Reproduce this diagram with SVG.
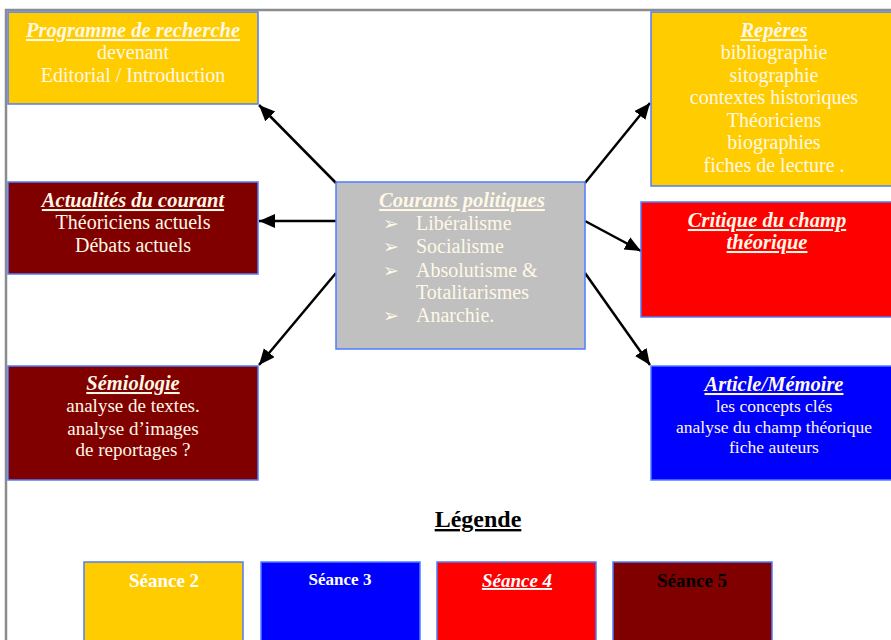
<svg xmlns="http://www.w3.org/2000/svg" width="891" height="640" viewBox="0 0 891 640">
<style>
.box{stroke:#4f7cff;stroke-width:1.5}
.t{font-family:"Liberation Serif","Times New Roman",serif;font-size:20px;fill:#fff8e6;text-anchor:middle}
.h{font-weight:bold;font-style:italic;text-decoration:underline;font-size:20.5px}
.s{text-anchor:start}
.sm{font-size:19px}
.xs{font-size:17.5px}
.bul{font-family:"DejaVu Sans",sans-serif;font-size:19px;fill:#fff8e6}
.lt{font-family:"Liberation Serif","Times New Roman",serif;font-weight:bold;text-anchor:middle}
.c{stroke:#000;stroke-width:2.5;fill:none;marker-end:url(#ah)}
</style>
<defs>
<marker id="ah" markerUnits="userSpaceOnUse" markerWidth="17" markerHeight="15" refX="16" refY="7" orient="auto">
<path d="M0,0 L16,7 L0,14 Z" fill="#000"/>
</marker>
</defs>
<rect width="891" height="640" fill="#fff"/>
<path d="M6,640 V10 H891" fill="none" stroke="#8c8c8c" stroke-width="2.5"/>

<g id="connectors">
<line class="c" x1="336" y1="183" x2="259" y2="105"/>
<line class="c" x1="336" y1="221" x2="259" y2="221"/>
<line class="c" x1="336" y1="273" x2="259" y2="365"/>
<line class="c" x1="585" y1="183" x2="650" y2="103"/>
<line class="c" x1="585" y1="221" x2="641" y2="251"/>
<line class="c" x1="585" y1="273" x2="650" y2="365"/>
</g>

<g id="programme">
<rect class="box" x="8" y="12" width="250" height="92" fill="#ffcc00"/>
<text class="t h" x="133" y="37">Programme de recherche</text>
<text class="t" x="133" y="59">devenant</text>
<text class="t" x="133" y="82">Editorial / Introduction</text>
</g>

<g id="reperes">
<rect class="box" x="651" y="12" width="245" height="174" fill="#ffcc00"/>
<text class="t h" x="774" y="37">Repères</text>
<text class="t" x="774" y="59">bibliographie</text>
<text class="t" x="774" y="82">sitographie</text>
<text class="t" x="774" y="104">contextes historiques</text>
<text class="t" x="774" y="127">Théoriciens</text>
<text class="t" x="774" y="149">biographies</text>
<text class="t" x="774" y="172">fiches de lecture .</text>
</g>

<g id="actualites">
<rect class="box" x="8" y="182" width="250" height="92" fill="#800000"/>
<text class="t h" x="133" y="207">Actualités du courant</text>
<text class="t" x="133" y="229">Théoriciens actuels</text>
<text class="t" x="133" y="252">Débats actuels</text>
</g>

<g id="courants">
<rect class="box" x="336" y="182" width="249" height="167" fill="#c0c0c0"/>
<text class="t h" x="462" y="207">Courants politiques</text>
<text class="bul" x="383" y="230">➢</text>
<text class="t s" x="416" y="230">Libéralisme</text>
<text class="bul" x="383" y="253">➢</text>
<text class="t s" x="416" y="253">Socialisme</text>
<text class="bul" x="383" y="277">➢</text>
<text class="t s" x="416" y="277">Absolutisme &amp;</text>
<text class="t s" x="416" y="299">Totalitarismes</text>
<text class="bul" x="383" y="322">➢</text>
<text class="t s" x="416" y="322">Anarchie.</text>
</g>

<g id="critique">
<rect class="box" x="641" y="202" width="252" height="115" fill="#ff0000"/>
<text class="t h" x="767" y="227">Critique du champ</text>
<text class="t h" x="767" y="249">théorique</text>
</g>

<g id="semiologie">
<rect class="box" x="8" y="366" width="250" height="114" fill="#800000"/>
<text class="t h" x="133" y="390">Sémiologie</text>
<text class="t sm" x="133" y="412">analyse de textes.</text>
<text class="t sm" x="133" y="435">analyse d’images</text>
<text class="t sm" x="133" y="456">de reportages ?</text>
</g>

<g id="article">
<rect class="box" x="651" y="366" width="245" height="114" fill="#0000ff"/>
<text class="t h" x="774" y="391">Article/Mémoire</text>
<text class="t xs" x="774" y="412">les concepts clés</text>
<text class="t xs" x="774" y="433">analyse du champ théorique</text>
<text class="t xs" x="774" y="453">fiche auteurs</text>
</g>

<g id="legende">
<text class="lt" x="478" y="527" font-size="24" fill="#000" text-decoration="underline">Légende</text>
</g>
<g id="seance2">
<rect class="box" x="84" y="562" width="159" height="90" fill="#ffcc00"/>
<text class="lt" x="164" y="587" font-size="19" fill="#fff">Séance 2</text>
</g>
<g id="seance3">
<rect class="box" x="261" y="562" width="159" height="90" fill="#0000ff"/>
<text class="lt" x="340" y="585" font-size="17" fill="#fff">Séance 3</text>
</g>
<g id="seance4">
<rect class="box" x="437" y="562" width="159" height="90" fill="#ff0000"/>
<text class="lt" x="517" y="587" font-size="19" fill="#fff" font-style="italic" text-decoration="underline">Séance 4</text>
</g>
<g id="seance5">
<rect class="box" x="613" y="562" width="159" height="90" fill="#800000"/>
<text class="lt" x="692" y="587" font-size="19" fill="#000">Séance 5</text>
</g>
</svg>
